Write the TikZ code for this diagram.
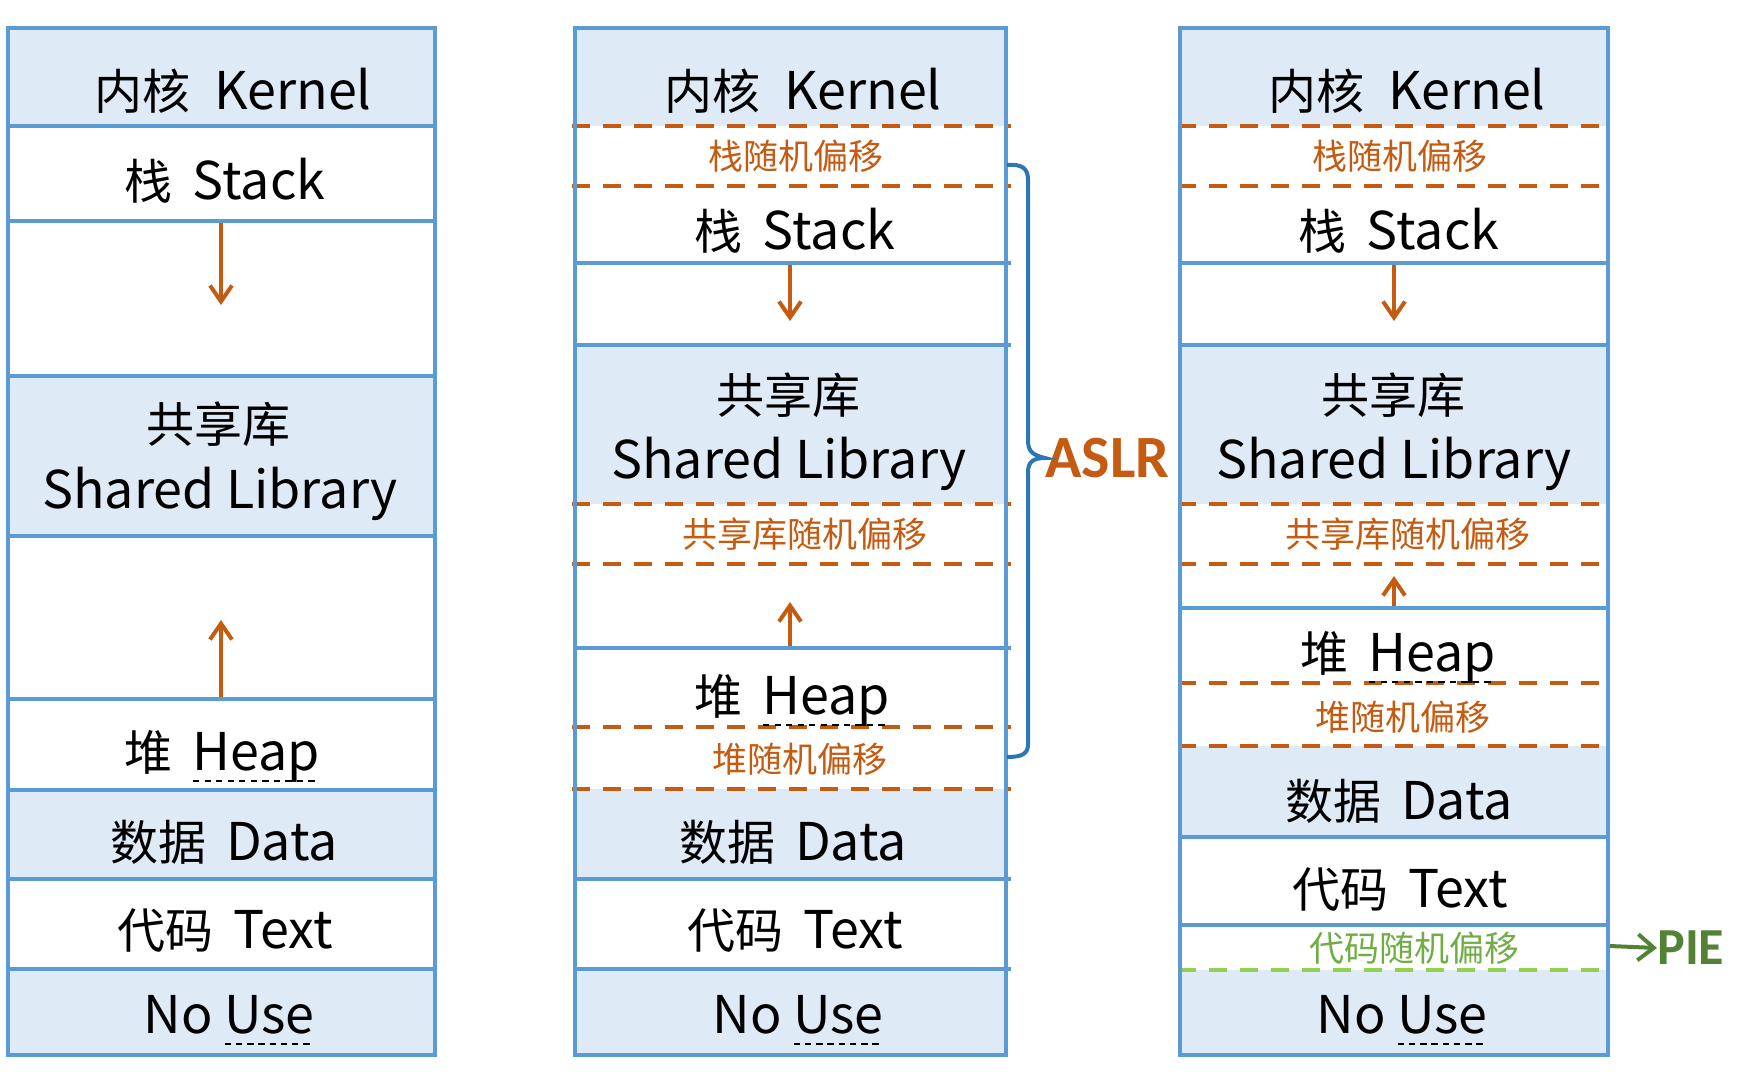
\documentclass[tikz,border=0pt]{standalone}
\usepackage{fontspec}
\setmainfont{Noto Sans CJK SC}
\newfontfamily\carl{Carlito}
\usetikzlibrary{arrows.meta}
\definecolor{bcol}{HTML}{5B9BD5}
\definecolor{fcol}{HTML}{DEEBF7}
\definecolor{orng}{HTML}{C55A11}
\definecolor{brk}{HTML}{2E75B6}
\definecolor{grn}{HTML}{548235}
\definecolor{lgrn}{HTML}{92D050}
\definecolor{tgrn}{HTML}{70AD47}
\newcommand{\dul}[1]{\setbox0\hbox{#1}\rlap{\raisebox{-6pt}{\hbox to \wd0{\xleaders\hbox{\vrule width 3.2pt height 1.1pt\kern 2.2pt}\hfill}}}\box0}
\newcommand{\cj}[1]{{\fontsize{24}{28}\selectfont #1}}
\newcommand{\gp}{\hspace{10pt}}
\tikzset{
  lbl/.style={font=\fontsize{26}{30}\selectfont, inner sep=0pt, text height=23pt, text depth=3pt},
  offl/.style={font=\fontsize{17.5}{19}\selectfont, text=orng, inner sep=0pt, text height=15pt, text depth=2.5pt},
  blueline/.style={draw=bcol, line width=2.3pt},
  odash/.style={draw=orng, line width=2.3pt, dash pattern=on 9pt off 6.5pt},
  gdash/.style={draw=lgrn, line width=2.3pt, dash pattern=on 9pt off 6.5pt},
  blk/.style={fill=fcol, draw=none},
  growarr/.style={draw=orng, line width=2pt, -{Straight Barb[length=8pt,width=11pt,line width=2pt]}},
  piearr/.style={draw=grn, line width=2pt, -{Straight Barb[length=8pt,width=13pt,line width=2pt]}},
}
\begin{document}
\begin{tikzpicture}[x=0.5pt,y=-0.5pt]
\useasboundingbox (0,0) rectangle (1750,1078);

% ================= Left column =================
\fill[blk] (8,28) rectangle (435,126);
\fill[blk] (8,376) rectangle (435,536);
\fill[blk] (8,790) rectangle (435,879);
\fill[blk] (8,969) rectangle (435,1055);
\foreach \yy in {126,221,376,536,699,790,879,969}
  \draw[blueline] (8,\yy) -- (435,\yy);
\draw[blueline] (8,28) rectangle (435,1055);

\node[lbl] (Lkern) at (233,89) {\cj{内核}\hspace{12pt}Kernel};
\node[lbl] (Lstack) at (225,179) {\cj{栈}\gp Stack};
\node[lbl] (Lshcn) at (218,422) {\cj{共享库}};
\node[lbl] (Lshen) at (220,488) {Shared Library};
\node[lbl] (Lheap) at (222,750) {\cj{堆}\gp\dul{Heap}};
\node[lbl] (Ldata) at (224,840) {\cj{数据}\gp Data};
\node[lbl] (Ltext) at (225,928) {\cj{代码}\gp Text};
\node[lbl] (Lnouse) at (229,1013) {No \dul{Use}};
\coordinate (Lsa) at (221,223);
\coordinate (Lsb) at (221,305);
\coordinate (Lha) at (221,697);
\coordinate (Lhb) at (221,620);
\draw[growarr] (Lsa) -- (Lsb);
\draw[growarr] (Lha) -- (Lhb);

% ================= Middle column =================
\fill[blk] (575,28) rectangle (1006,126);
\fill[blk] (575,345) rectangle (1006,504);
\fill[blk] (575,789) rectangle (1006,879);
\fill[blk] (575,969) rectangle (1006,1055);
\foreach \yy in {263,345,648,879,969}
  \draw[blueline] (575,\yy) -- (1011,\yy);
\foreach \yy in {126,186,504,564,727,789}
  \draw[odash] (572,\yy) -- (1011,\yy);
\draw[blueline] (575,28) rectangle (1006,1055);

\node[lbl] (Mkern) at (803,89) {\cj{内核}\hspace{12pt}Kernel};
\node[offl] (Msoff) at (796,157) {栈随机偏移};
\node[lbl] (Mstack) at (795,229) {\cj{栈}\gp Stack};
\node[lbl] (Mshcn) at (788,393) {\cj{共享库}};
\node[lbl] (Mshen) at (789,458) {Shared Library};
\node[offl] (Mlibo) at (805,535) {共享库随机偏移};
\node[lbl] (Mheap) at (792,694) {\cj{堆}\gp\dul{Heap}};
\node[offl] (Mhoff) at (800,760) {堆随机偏移};
\node[lbl] (Mdata) at (793,840) {\cj{数据}\gp Data};
\node[lbl] (Mtext) at (795,928) {\cj{代码}\gp Text};
\node[lbl] (Mnouse) at (798,1013) {No \dul{Use}};
\coordinate (Msa) at (790,265);
\coordinate (Msb) at (790,321);
\coordinate (Mha) at (790,646);
\coordinate (Mhb) at (790,602);
\draw[growarr] (Msa) -- (Msb);
\draw[growarr] (Mha) -- (Mhb);

% ASLR bracket
\node[font=\carl\bfseries\fontsize{30}{32}\selectfont, text=orng, inner sep=0pt, anchor=west] (aslr) at (1045,458) {ASLR};
\coordinate (bt) at (1007,165);
\coordinate (bb) at (1007,757);
\draw[brk, line width=2pt] (bt) .. controls (1022,164) and (1028,168) .. (1028,180)
  -- (1028,440) .. controls (1028,452) and (1033,455) .. (aslr.west)
  .. controls (1033,458) and (1028,462) .. (1028,472)
  -- (1028,744) .. controls (1028,754) and (1022,757) .. (bb);

% ================= Right column =================
\fill[blk] (1180,28) rectangle (1608,126);
\fill[blk] (1180,345) rectangle (1608,504);
\fill[blk] (1180,746) rectangle (1608,837);
\fill[blk] (1180,970) rectangle (1608,1055);
\foreach \yy in {263,345,608,837,925}
  \draw[blueline] (1180,\yy) -- (1608,\yy);
\foreach \yy in {126,186,504,564,683,746}
  \draw[odash] (1178,\yy) -- (1608,\yy);
\draw[gdash] (1178,970) -- (1608,970);
\draw[blueline] (1180,28) rectangle (1608,1055);

\node[lbl] (Rkern) at (1407,89) {\cj{内核}\hspace{12pt}Kernel};
\node[offl] (Rsoff) at (1400,157) {栈随机偏移};
\node[lbl] (Rstack) at (1399,229) {\cj{栈}\gp Stack};
\node[lbl] (Rshcn) at (1393,393) {\cj{共享库}};
\node[lbl] (Rshen) at (1394,458) {Shared Library};
\node[offl] (Rlibo) at (1408,535) {共享库随机偏移};
\node[lbl] (Rheap) at (1398,651) {\cj{堆}\gp\dul{Heap}};
\node[offl] (Rhoff) at (1403,718) {堆随机偏移};
\node[lbl] (Rdata) at (1399,799) {\cj{数据}\gp Data};
\node[lbl] (Rtext) at (1400,887) {\cj{代码}\gp Text};
\node[offl, text=tgrn] (Rcoff) at (1414,949) {代码随机偏移};
\node[lbl] (Rnouse) at (1402,1013) {No \dul{Use}};
\coordinate (Rsa) at (1394,265);
\coordinate (Rsb) at (1394,321);
\coordinate (Rha) at (1394,606);
\coordinate (Rhb) at (1394,576);
\draw[growarr] (Rsa) -- (Rsb);
\draw[growarr] (Rha) -- (Rhb);

% PIE
\node[font=\carl\bfseries\fontsize{26}{28}\selectfont, text=grn, inner sep=0pt, anchor=west] (pie) at (1657,948) {PIE};
\coordinate (pa) at (1610,946);
\draw[piearr] (pa) -- (pie.west);
\end{tikzpicture}
\end{document}
